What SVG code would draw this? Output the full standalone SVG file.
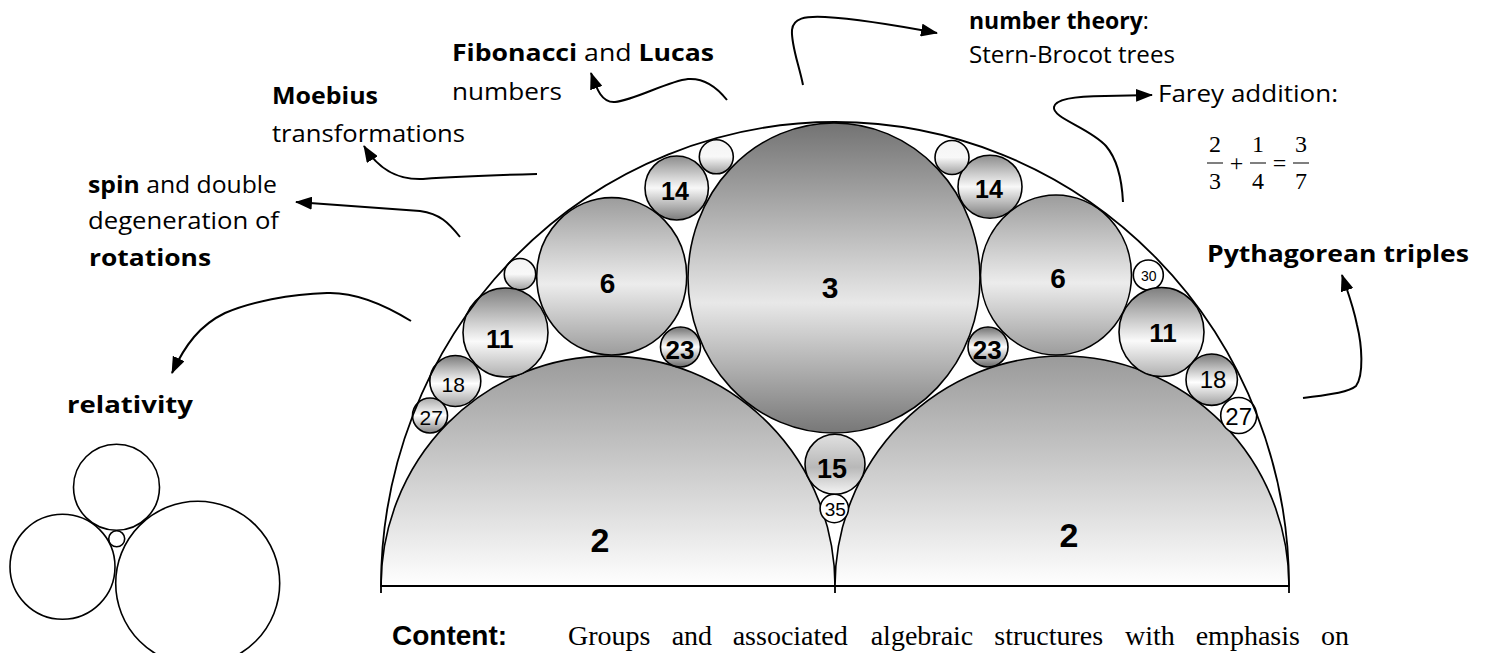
<svg xmlns="http://www.w3.org/2000/svg" width="1488" height="653" viewBox="0 0 1488 653">
<defs>
<linearGradient id="g2" x1="0" y1="0" x2="0" y2="1"><stop offset="0" stop-color="#9a9a9a"/><stop offset="1" stop-color="#ffffff"/></linearGradient>
<linearGradient id="g3" x1="0" y1="0" x2="0" y2="1"><stop offset="0" stop-color="#737373"/><stop offset="0.58" stop-color="#e8e8e8"/><stop offset="1" stop-color="#777777"/></linearGradient>
<linearGradient id="g6" x1="0" y1="0" x2="0" y2="1"><stop offset="0" stop-color="#9c9c9c"/><stop offset="0.55" stop-color="#ececec"/><stop offset="1" stop-color="#9c9c9c"/></linearGradient>
<linearGradient id="g14" x1="0" y1="0" x2="0" y2="1"><stop offset="0" stop-color="#8c8c8c"/><stop offset="0.5" stop-color="#f8f8f8"/><stop offset="1" stop-color="#7c7c7c"/></linearGradient>
<linearGradient id="g11" x1="0" y1="0" x2="0" y2="1"><stop offset="0" stop-color="#7f7f7f"/><stop offset="0.6" stop-color="#fafafa"/><stop offset="1" stop-color="#b0b0b0"/></linearGradient>
<linearGradient id="gs" x1="0" y1="0" x2="0" y2="1"><stop offset="0" stop-color="#f4f4f4"/><stop offset="0.5" stop-color="#f8f8f8"/><stop offset="1" stop-color="#a0a0a0"/></linearGradient>
<linearGradient id="g23" x1="0" y1="0" x2="0" y2="1"><stop offset="0" stop-color="#707070"/><stop offset="0.5" stop-color="#ffffff"/><stop offset="1" stop-color="#6a6a6a"/></linearGradient>
<linearGradient id="g18" x1="0" y1="0" x2="0" y2="1"><stop offset="0" stop-color="#7a7a7a"/><stop offset="0.55" stop-color="#ffffff"/><stop offset="1" stop-color="#a0a0a0"/></linearGradient>
<linearGradient id="g27" x1="0" y1="0" x2="0" y2="1"><stop offset="0" stop-color="#aaaaaa"/><stop offset="0.5" stop-color="#ffffff"/><stop offset="1" stop-color="#808080"/></linearGradient>
<linearGradient id="g15" x1="0" y1="0" x2="0" y2="1"><stop offset="0" stop-color="#e0e0e0"/><stop offset="0.55" stop-color="#b8b8b8"/><stop offset="1" stop-color="#f5f5f5"/></linearGradient>
<marker id="ah" markerUnits="userSpaceOnUse" markerWidth="17" markerHeight="13" refX="16" refY="6.5" orient="auto"><path d="M0,0 L17,6.5 L0,13 Z" fill="#000"/></marker>
</defs>
<style>
.c{stroke:#000;stroke-width:1.6}
.w{fill:#fff}
.n{font-family:"Liberation Sans",Arial,sans-serif;font-weight:bold;text-anchor:middle;fill:#000}
.r{font-family:"Liberation Sans",Arial,sans-serif;text-anchor:middle;fill:#000}
.lab{font-family:"Open Sans",sans-serif;font-size:23px;fill:#000}
.b{font-weight:bold}
.arr{fill:none;stroke:#000;stroke-width:2;marker-end:url(#ah)}
.ln{fill:none;stroke:#000;stroke-width:1.8}
.fr{font-family:"Liberation Serif","Times New Roman",serif;font-size:24px;text-anchor:middle;fill:#000}
.tx{font-family:"Liberation Serif","Times New Roman",serif;font-size:28px;fill:#000}
</style>
<rect width="1488" height="653" fill="#fff"/>

<g id="gasket">
<g id="c2L"><path class="c" fill="url(#g2)" d="M381,586 A227,230 0 0 1 835,586 Z"/><text class="n" x="600" y="552" font-size="34">2</text></g>
<g id="c2R"><path class="c" fill="url(#g2)" d="M835,586 A227,230 0 0 1 1289,586 Z"/><text class="n" x="1069" y="547" font-size="34">2</text></g>
<g id="c3"><ellipse class="c" fill="url(#g3)" cx="834" cy="278" rx="146" ry="155"/><text class="n" x="830" y="298" font-size="30">3</text></g>
<g id="c6L"><ellipse class="c" fill="url(#g6)" cx="611.7" cy="276.3" rx="75" ry="78.7"/><text class="n" x="607.5" y="293" font-size="28">6</text></g>
<g id="c6R"><ellipse class="c" fill="url(#g6)" cx="1056" cy="275" rx="75.5" ry="80"/><text class="n" x="1058" y="288" font-size="28">6</text></g>
<g id="c14L"><ellipse class="c" fill="url(#g14)" cx="676.7" cy="188" rx="31.7" ry="32"/><text class="n" x="675" y="200" font-size="25">14</text></g>
<g id="c14R"><ellipse class="c" fill="url(#g14)" cx="990" cy="186.7" rx="32" ry="31.5"/><text class="n" x="989" y="197.7" font-size="25">14</text></g>
<g id="c26L"><circle class="c" fill="url(#gs)" cx="716.3" cy="156.8" r="17"/></g>
<g id="c26R"><circle class="c" fill="url(#gs)" cx="952" cy="157.5" r="17"/></g>
<g id="c30L"><circle class="c" fill="url(#gs)" cx="520" cy="274.2" r="15.7"/></g>
<g id="c30R"><circle class="c w" cx="1148.3" cy="275" r="15"/><text class="r" x="1148.7" y="280.7" font-size="14">30</text></g>
<g id="c11L"><ellipse class="c" fill="url(#g11)" cx="505.5" cy="332.5" rx="42.5" ry="44.5"/><text class="n" x="499.7" y="348.3" font-size="26">11</text></g>
<g id="c11R"><ellipse class="c" fill="url(#g11)" cx="1161.5" cy="332" rx="42.5" ry="44.5"/><text class="n" x="1163" y="341.7" font-size="26">11</text></g>
<g id="c23L"><circle class="c" fill="url(#g23)" cx="680.5" cy="347" r="20"/><text class="n" x="680" y="359.3" font-size="26">23</text></g>
<g id="c23R"><circle class="c" fill="url(#g23)" cx="988" cy="347" r="20"/><text class="n" x="987.3" y="359.3" font-size="26">23</text></g>
<g id="c18L"><circle class="c" fill="url(#g18)" cx="455.3" cy="381" r="25.5"/><text class="r" x="453.3" y="391.7" font-size="21">18</text></g>
<g id="c18R"><circle class="c" fill="url(#g18)" cx="1211.7" cy="379.7" r="25.7"/><text class="r" x="1213" y="388" font-size="24">18</text></g>
<g id="c27L"><circle class="c" fill="url(#g27)" cx="430" cy="415.5" r="17.5"/><text class="r" x="431.3" y="425" font-size="21">27</text></g>
<g id="c27R"><circle class="c w" cx="1238.7" cy="415.5" r="18"/><text class="r" x="1238.7" y="425" font-size="24">27</text></g>
<g id="c15"><circle class="c" fill="url(#g15)" cx="835" cy="464.3" r="30"/><text class="n" x="832" y="478.3" font-size="27">15</text></g>
<g id="c35"><circle class="c w" cx="834.3" cy="508.5" r="14.2"/><text class="r" x="835.3" y="516" font-size="19">35</text></g>
<g id="outer"><path class="ln" d="M381,593 L381,586 A454,464 0 0 1 1289,586 L1289,593 M381,586 H1289 M835,586 V593"/></g>
</g>

<g id="relativity-circles" fill="none" stroke="#000" stroke-width="1.6">
<circle cx="116.5" cy="487.2" r="43"/>
<circle cx="62.5" cy="566.8" r="52.5"/>
<circle cx="197.7" cy="583.3" r="82"/>
<circle cx="116.7" cy="538.8" r="8"/>
</g>

<g id="labels">
<g id="lab-fib"><text class="lab" x="452" y="61" textLength="262" lengthAdjust="spacingAndGlyphs"><tspan class="b">Fibonacci</tspan> and <tspan class="b">Lucas</tspan></text>
<text class="lab" x="452" y="100" textLength="110" lengthAdjust="spacingAndGlyphs">numbers</text></g>
<g id="lab-moebius"><text class="lab b" x="272" y="104" textLength="106" lengthAdjust="spacingAndGlyphs">Moebius</text>
<text class="lab" x="272" y="141.7" textLength="193" lengthAdjust="spacingAndGlyphs">transformations</text></g>
<g id="lab-spin"><text class="lab" x="88" y="193" textLength="189" lengthAdjust="spacingAndGlyphs"><tspan class="b">spin</tspan> and double</text>
<text class="lab" x="88" y="229" textLength="191" lengthAdjust="spacingAndGlyphs">degeneration of</text>
<text class="lab b" x="89" y="266" textLength="122" lengthAdjust="spacingAndGlyphs">rotations</text></g>
<g id="lab-rel"><text class="lab b" x="67" y="413" textLength="126" lengthAdjust="spacingAndGlyphs">relativity</text></g>
<g id="lab-nt"><text class="lab" x="969" y="29" font-size="20"><tspan class="b">number theory</tspan>:</text>
<text class="lab" x="969" y="63" textLength="206" lengthAdjust="spacingAndGlyphs">Stern-Brocot trees</text></g>
<g id="lab-farey"><text class="lab" x="1158" y="102" textLength="180" lengthAdjust="spacingAndGlyphs">Farey addition:</text>
<text class="fr" x="1215" y="152">2</text><text class="fr" x="1215" y="189">3</text>
<text class="fr" x="1236.5" y="171">+</text>
<text class="fr" x="1258" y="152">1</text><text class="fr" x="1258" y="189">4</text>
<text class="fr" x="1279.5" y="171">=</text>
<text class="fr" x="1301" y="152">3</text><text class="fr" x="1301" y="189">7</text>
<path stroke="#000" stroke-width="1.2" d="M1207,163 H1223 M1250,163 H1266 M1293,163 H1309"/></g>
<g id="lab-pyth"><text class="lab b" x="1207" y="262" textLength="262" lengthAdjust="spacingAndGlyphs">Pythagorean triples</text></g>
<g id="lab-content"><text x="392" y="645" font-family="Liberation Sans, Arial, sans-serif" font-weight="bold" font-size="28">Content:</text>
<text class="tx" y="645"><tspan x="568">Groups</tspan><tspan x="671.7">and</tspan><tspan x="732.7">associated</tspan><tspan x="870.7">algebraic</tspan><tspan x="994.3">structures</tspan><tspan x="1125">with</tspan><tspan x="1195.7">emphasis</tspan><tspan x="1321">on</tspan></text></g>
</g>

<g id="connectors">
<path class="arr" d="M727,100 C716,86 702,78 688,79 C668,81 635,100 615,102 C602,103 597,90 591,73"/>
<path class="arr" d="M537,174 C500,175 450,177 423,179 C400,180 380,172 364,146"/>
<path class="arr" d="M460,237 C448,222 440,214 420,211 L296,202"/>
<path class="arr" d="M803,85 C799,65 791,45 792,30 C793,18 805,16 825,17 C860,19 900,26 937,33"/>
<path class="arr" d="M1123,202 C1122,182 1118,160 1106,146 C1090,128 1052,118 1054,107 C1056,97 1085,96 1105,96 L1152,95"/>
<path class="arr" d="M1303,398 C1325,395 1348,393 1356,386 C1364,375 1362,345 1357,325 C1353,305 1347,290 1342,275"/>
<path class="arr" d="M411,321 C385,305 355,292 327,293 C290,294 250,302 225,313 C200,325 185,345 172,373"/>
</g>
</svg>
